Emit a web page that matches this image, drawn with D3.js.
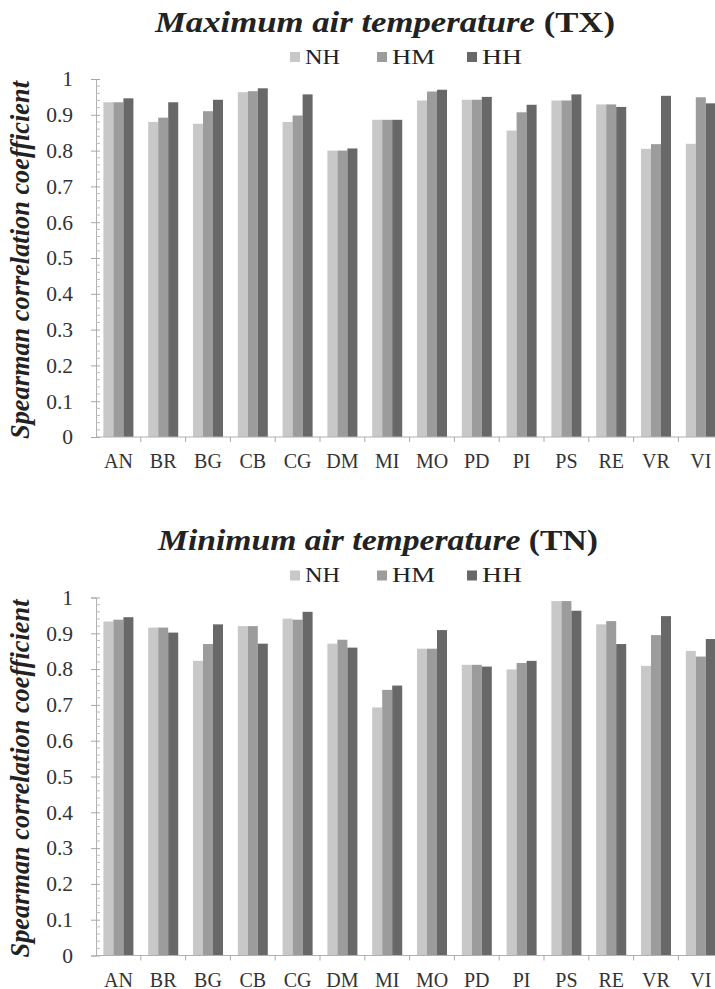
<!DOCTYPE html>
<html>
<head>
<meta charset="utf-8">
<script src="https://cdn.jsdelivr.net/npm/d3@7"></script>
<style>
  html, body { margin: 0; padding: 0; background: #fff; }
  svg { display: block; }
  text { font-family: "Liberation Serif", "Times New Roman", serif; fill: #222; }
</style>
</head>
<body>
<svg id="fig" width="715" height="989"></svg>
<script>
// Stations and scenarios
const stations = ["AN","BR","BG","CB","CG","DM","MI","MO","PD","PI","PS","RE","VR","VI"];
const series = ["NH","HM","HH"];
const seriesColors = ["#c8c8c8","#9c9c9c","#686868"];
const yTicks = [0,0.1,0.2,0.3,0.4,0.5,0.6,0.7,0.8,0.9,1];

// Spearman correlation, maximum air temperature (TX)
const txNH = [0.935,0.880,0.875,0.963,0.880,0.800,0.886,0.940,0.942,0.856,0.940,0.929,0.805,0.819];
const txHM = [0.935,0.892,0.910,0.966,0.898,0.800,0.886,0.965,0.942,0.907,0.940,0.929,0.818,0.949];
const txHH = [0.946,0.935,0.942,0.974,0.957,0.806,0.886,0.970,0.950,0.928,0.957,0.922,0.953,0.932];

// Spearman correlation, minimum air temperature (TN)
const tnNH = [0.933,0.916,0.823,0.920,0.941,0.871,0.693,0.857,0.812,0.799,0.990,0.925,0.809,0.851];
const tnHM = [0.938,0.916,0.870,0.920,0.938,0.882,0.742,0.857,0.812,0.817,0.990,0.934,0.895,0.835];
const tnHH = [0.945,0.902,0.925,0.871,0.960,0.860,0.754,0.909,0.807,0.823,0.963,0.870,0.948,0.884];

const svg = d3.select("#fig");

function drawPanel(opts) {
  const g = svg.append("g").attr("transform", `translate(0,${opts.dy})`);
  const y0 = 437, y1 = 79, axisX = 96, step = 44.8;

  const x = d3.scaleBand()
    .domain(stations)
    .range([axisX, axisX + step * stations.length])
    .paddingInner(0.33)
    .paddingOuter(0.165);
  const xs = d3.scaleBand().domain(series).range([0, x.bandwidth()]);
  const y = d3.scaleLinear().domain([0, 1]).range([y0, y1]);
  const color = d3.scaleOrdinal().domain(series).range(seriesColors);

  // title: italic name followed by upright variable code
  const title = g.append("text")
    .attr("x", opts.titleX).attr("y", 31.5)
    .attr("textLength", opts.titleW).attr("lengthAdjust", "spacingAndGlyphs")
    .style("font-size", "28.5px").style("font-weight", "bold");
  title.append("tspan").style("font-style", "italic").text(opts.title + " ");
  title.append("tspan").text(opts.code);

  // legend
  const legX = [290, 377, 467];
  const legW = [35, 43, 40];
  series.forEach((s, i) => {
    g.append("rect").attr("x", legX[i]).attr("y", 52).attr("width", 10).attr("height", 10)
      .attr("fill", color(s));
    g.append("text").attr("x", legX[i] + 15).attr("y", 63.5)
      .attr("textLength", legW[i]).attr("lengthAdjust", "spacingAndGlyphs")
      .style("font-size", "20.5px").text(s);
  });

  // bars
  const rows = stations.map((st, i) => ({ st, vals: opts.values.map(v => v[i]) }));
  const grp = g.selectAll("g.grp").data(rows).join("g")
    .attr("class", "grp")
    .attr("transform", d => `translate(${x(d.st)},0)`);
  grp.selectAll("rect").data(d => d.vals.map((v, k) => ({ s: series[k], v })))
    .join("rect")
    .attr("x", d => xs(d.s))
    .attr("width", xs.bandwidth())
    .attr("y", d => y(d.v))
    .attr("height", d => y(0) - y(d.v))
    .attr("fill", d => color(d.s));

  // y axis
  const ya = g.append("g").attr("transform", `translate(${axisX},0)`)
    .call(d3.axisLeft(y).tickValues(yTicks).tickSize(5).tickFormat(d3.format("")));
  ya.select(".domain").attr("stroke", "#b0b0b0");
  ya.selectAll(".tick line").attr("stroke", "#a8a8a8").attr("x2", -5).attr("x1", 4);
  ya.selectAll(".tick text")
    .attr("x", -23)
    .style("font-family", "'Liberation Serif', serif")
    .style("font-size", "21.5px").style("fill", "#333");
  // minor ticks every 0.02
  const minor = d3.range(0, 1.0001, 0.02).filter(v => Math.round(v * 100) % 10 !== 0);
  g.append("g").selectAll("line").data(minor).join("line")
    .attr("x1", axisX).attr("x2", axisX + 4)
    .attr("y1", d => y(d)).attr("y2", d => y(d))
    .attr("stroke", "#bdbdbd");

  // x axis
  const xa = g.append("g").attr("transform", `translate(0,${y0})`);
  xa.append("line").attr("x1", axisX).attr("x2", 715).attr("stroke", "#b0b0b0");
  xa.selectAll("line.cat").data(d3.range(1, stations.length)).join("line")
    .attr("class", "cat")
    .attr("x1", i => axisX + i * x.step()).attr("x2", i => axisX + i * x.step())
    .attr("y1", 0).attr("y2", 5).attr("stroke", "#a8a8a8");
  xa.selectAll("text").data(stations).join("text")
    .attr("x", d => x(d) + x.bandwidth() / 2)
    .attr("y", 31)
    .attr("text-anchor", "middle")
    .style("font-size", "20px").style("fill", "#333")
    .text(d => d);

  // y axis title
  g.append("text")
    .attr("transform", `translate(29,${(y0 + y1) / 2 + 2}) rotate(-90)`)
    .attr("text-anchor", "middle")
    .attr("textLength", 358).attr("lengthAdjust", "spacingAndGlyphs")
    .style("font-size", "27px").style("font-weight", "bold").style("font-style", "italic")
    .text("Spearman correlation coefficient");
}

drawPanel({ dy: 0, title: "Maximum air temperature", code: "(TX)", titleX: 155, titleW: 460,
            values: [txNH, txHM, txHH] });
drawPanel({ dy: 518.5, title: "Minimum air temperature", code: "(TN)", titleX: 158, titleW: 440,
            values: [tnNH, tnHM, tnHH] });
</script>
</body>
</html>
